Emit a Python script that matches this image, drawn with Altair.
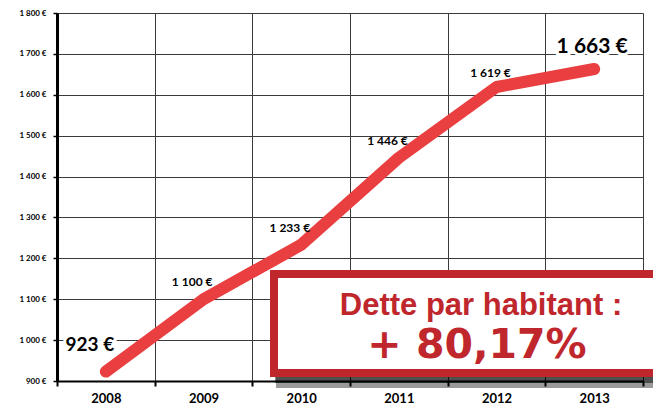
import altair as alt
import pandas as pd

years = ["2008", "2009", "2010", "2011", "2012", "2013"]
debt = [923, 1100, 1233, 1446, 1619, 1663]
labels = ["923 €", "1 100 €", "1 233 €", "1 446 €", "1 619 €", "1 663 €"]
y_ticks = [900, 1000, 1100, 1200, 1300, 1400, 1500, 1600, 1700, 1800]
box_line1 = "Dette par habitant :"
box_line2 = "+ 80,17%"

df = pd.DataFrame({"year": years, "debt": debt, "label": labels})

RED_LINE = "#ea3f40"
BOX_RED = "#c0272d"
FONT = "Lato"

x_enc = alt.X(
    "year:O",
    scale=alt.Scale(type="band", paddingInner=0, paddingOuter=0),
    bandPosition=0.5,
    axis=alt.Axis(
        title=None, tickBand="extent", grid=True, gridColor="#3a3a3a", gridWidth=1,
        domainColor="black", domainWidth=2, tickColor="black", tickWidth=2, tickSize=5,
        labelFont=FONT, labelFontWeight="bold", labelFontSize=13, labelColor="black",
        labelPadding=6, labelAngle=0,
    ),
)
y_enc = alt.Y(
    "debt:Q",
    scale=alt.Scale(domain=[900, 1800], nice=False, zero=False),
    axis=alt.Axis(
        title=None, values=y_ticks, grid=True, gridColor="#3a3a3a", gridWidth=1,
        domainColor="black", domainWidth=3, tickColor="black", tickWidth=1.5, tickSize=4,
        labelFont=FONT, labelFontWeight="bold", labelFontSize=8, labelColor="black",
        labelPadding=7,
        labelExpr="replace(format(datum.value, ',d'), ',', ' ') + ' €'",
    ),
)

base = alt.Chart(df).encode(x=x_enc, y=y_enc)

line = base.mark_line(color=RED_LINE, strokeWidth=12, strokeCap="round", strokeJoin="round")

small_a = base.transform_filter(
    alt.FieldOneOfPredicate(field="year", oneOf=["2009", "2010", "2011"])
).mark_text(font=FONT, fontWeight="bold", fontSize=12, align="right", dx=9, dy=-17, color="black").encode(text="label:N")

small_b = base.transform_filter(alt.datum.year == "2012").mark_text(
    font=FONT, fontWeight="bold", fontSize=12, align="center", dx=-6, dy=-14, color="black"
).encode(text="label:N")

big1_halo = base.transform_filter(alt.datum.year == "2008").mark_text(
    font=FONT, fontWeight="bold", fontSize=19, align="center", dx=-16, dy=-27,
    color="white", stroke="white", strokeWidth=6
).encode(text="label:N")
big1 = base.transform_filter(alt.datum.year == "2008").mark_text(
    font=FONT, fontWeight="bold", fontSize=19, align="center", dx=-16, dy=-27, color="black"
).encode(text="label:N")

big2_halo = base.transform_filter(alt.datum.year == "2013").mark_text(
    font=FONT, fontWeight="bold", fontSize=21, align="center", dx=-2, dy=-22,
    color="white", stroke="white", strokeWidth=6
).encode(text="label:N")
big2 = base.transform_filter(alt.datum.year == "2013").mark_text(
    font=FONT, fontWeight="bold", fontSize=21, align="center", dx=-2, dy=-22, color="black"
).encode(text="label:N")

# annotation box with soft shadow
shadow1 = alt.Chart(df).mark_rect(fill="black", opacity=0.08, clip=False).encode(
    x=alt.value(219), x2=alt.value(700), y=alt.value(265), y2=alt.value(375)
)
shadow2 = alt.Chart(df).mark_rect(fill="black", opacity=0.10, clip=False).encode(
    x=alt.value(218), x2=alt.value(700), y=alt.value(263), y2=alt.value(370)
)
box = alt.Chart(df).mark_rect(fill="white", stroke=BOX_RED, strokeWidth=8, clip=False).encode(
    x=alt.value(217), x2=alt.value(700), y=alt.value(261), y2=alt.value(360)
)
t1 = alt.Chart(pd.DataFrame({"t": [box_line1]})).mark_text(
    font="Liberation Sans", fontWeight="bold", fontSize=31, color=BOX_RED,
    align="center", baseline="alphabetic"
).encode(text="t:N", x=alt.value(424), y=alt.value(302))
t2 = alt.Chart(pd.DataFrame({"t": [box_line2]})).mark_text(
    font="DejaVu Sans", fontWeight="bold", fontSize=41, color=BOX_RED,
    align="center", baseline="alphabetic"
).encode(text="t:N", x=alt.value(420), y=alt.value(345))

chart = alt.layer(
    line, small_a, small_b, big1_halo, big1, big2_halo, big2,
    shadow1, shadow2, box, t1, t2
).properties(
    width=586, height=368,
    autosize=alt.AutoSizeParams(type="none"),
    padding={"left": 49, "top": 5, "right": 10, "bottom": 26},
).configure_view(
    stroke="#333333", strokeWidth=1.5
).configure(background="white")

chart.save("out.html", embed_options={"renderer": "svg", "actions": False})
